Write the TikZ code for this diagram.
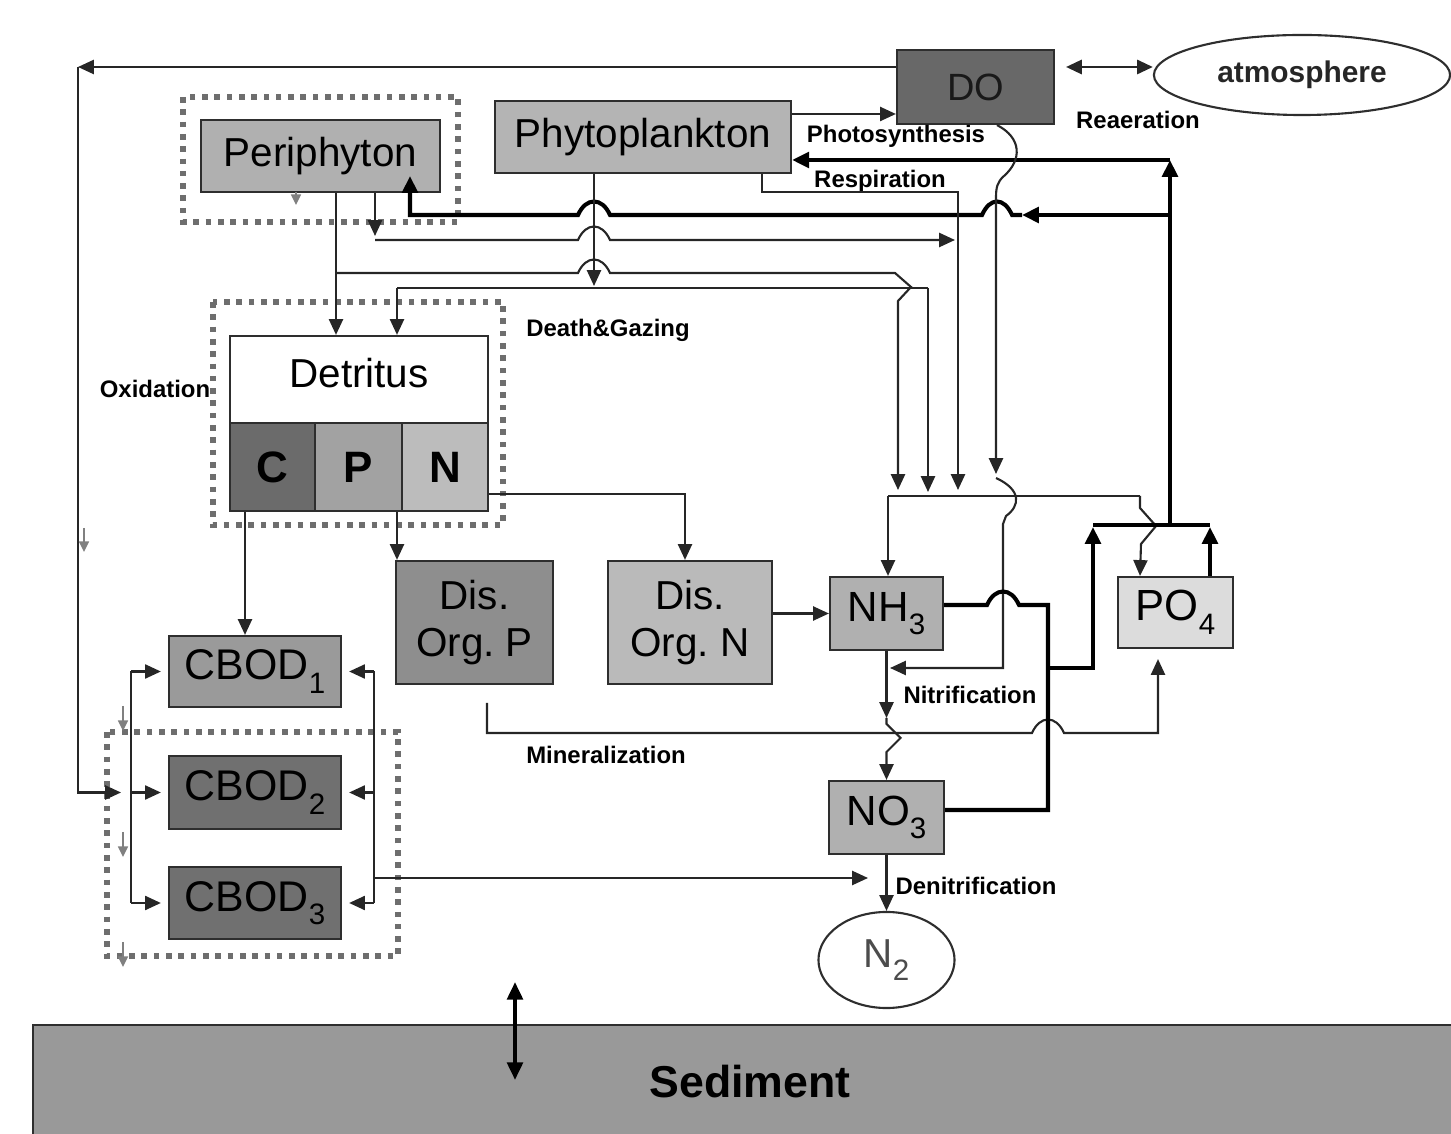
\documentclass[tikz,border=0pt]{standalone}
\usepackage{fontspec}
\setmainfont{Liberation Sans}
\usetikzlibrary{arrows.meta,positioning,shapes.geometric}

\definecolor{edge}{HTML}{2E2E2E}
\definecolor{dots}{HTML}{6E6E6E}
\definecolor{sed}{HTML}{999999}
\definecolor{peri}{HTML}{B0B0B0}
\definecolor{phy}{HTML}{B4B4B4}
\definecolor{dox}{HTML}{686868}
\definecolor{cellC}{HTML}{6B6B6B}
\definecolor{cellP}{HTML}{A2A2A2}
\definecolor{cellN}{HTML}{BCBCBC}
\definecolor{disp}{HTML}{8E8E8E}
\definecolor{disn}{HTML}{BABABA}
\definecolor{nut}{HTML}{B0B0B0}
\definecolor{pho}{HTML}{DCDCDC}
\definecolor{cbA}{HTML}{9A9A9A}
\definecolor{cbB}{HTML}{707070}

\newcommand{\lowsub}[1]{\raisebox{-0.6ex}{\fontsize{8.4}{9}\selectfont #1}}
\frenchspacing

\tikzset{
  pool/.style={draw=edge, line width=0.6pt, inner sep=0pt, align=center,
    font=\fontsize{11.5}{13.6}\selectfont},
  cell/.style={pool, minimum height=0.88cm, font=\bfseries\fontsize{12.5}{14}\selectfont},
  flux/.style={inner sep=0pt, font=\bfseries\fontsize{6.8}{8}\selectfont},
  link/.style={draw=black!85, line width=0.6pt},
  flow/.style={link, -{Triangle[length=4.5pt,width=4pt]}},
  heavy/.style={draw=black, line width=1.15pt},
  hflow/.style={heavy, -{Triangle[length=4.8pt,width=4.4pt]}},
  group/.style={draw=dots, line width=1.6pt, dash pattern=on 1.6pt off 1.9pt},
  tick/.style={draw=black!50, line width=0.5pt, -{Triangle[length=3pt,width=2.8pt]}},
}

\begin{document}
\begin{tikzpicture}[x=0.01cm,y=-0.01cm]
  \useasboundingbox (0,0) rectangle (1451,1134);

  % sediment layer
  \fill[sed] (33,1025) rectangle (1451,1134);
  \draw[edge, line width=0.7pt] (33,1134) -- (33,1025) -- (1451,1025);
  \node[flux, font=\bfseries\fontsize{12.7}{15}\selectfont] (sedim) at (750,1082) {Sediment};
  \coordinate (sx1) at (515,982);
  \coordinate (sx2) at (515,1080);
  \draw[heavy, {Triangle[length=5pt,width=4.4pt]}-{Triangle[length=5pt,width=4.4pt]}] (sx1) -- (sx2);

  % dotted groups
  \draw[group] (183,97) rectangle (458,222);
  \draw[group] (213,302) rectangle (503,525);
  \draw[group] (107,732) rectangle (398,956);

  % pools
  \node[pool, fill=peri, minimum width=2.39cm, minimum height=0.72cm] (periph) at (320.5,156) {Periphyton};
  \node[pool, fill=phy, minimum width=2.96cm, minimum height=0.72cm] (phyto) at (643,137) {Phytoplankton};
  \node[pool, fill=dox, minimum width=1.57cm, minimum height=0.74cm, text=black!90, font=\fontsize{10.8}{13}\selectfont] (DO) at (975.5,87) {DO};
  \node[pool, ellipse, minimum width=2.96cm, minimum height=0.80cm, text=black!85,
        font=\bfseries\fontsize{8.5}{10}\selectfont] (atm) at (1302,75) {atmosphere};
  \node[pool, fill=white, minimum width=2.58cm, minimum height=0.87cm, text depth=0.13cm] (det) at (359,379.5) {Detritus};
  \node[cell, fill=cellC, minimum width=0.85cm] (detC) at (272.5,467) {C};
  \node[cell, fill=cellP, minimum width=0.87cm] (detP) at (358.5,467) {P};
  \node[cell, fill=cellN, minimum width=0.86cm] (detN) at (445,467) {N};
  \node[pool, fill=disp, minimum width=1.57cm, minimum height=1.23cm] (disP) at (474.5,622.5) {Dis.\\Org. P};
  \node[pool, fill=disn, minimum width=1.64cm, minimum height=1.23cm] (disN) at (690,622.5) {Dis.\\Org. N};
  \node[pool, fill=nut, minimum width=1.13cm, minimum height=0.73cm, font=\fontsize{12}{14}\selectfont] (NH3) at (886.5,613.5) {NH\lowsub{3}};
  \node[pool, fill=pho, minimum width=1.15cm, minimum height=0.71cm, font=\fontsize{12.4}{14}\selectfont] (PO4) at (1175.5,612.5) {PO\lowsub{4}};
  \node[pool, fill=nut, minimum width=1.15cm, minimum height=0.73cm, font=\fontsize{12}{14}\selectfont] (NO3) at (886.5,817.5) {NO\lowsub{3}};
  \node[pool, ellipse, minimum width=1.36cm, minimum height=0.96cm, text=black!70] (N2) at (886.5,960) {N\lowsub{2}};
  \node[pool, fill=cbA, minimum width=1.72cm, minimum height=0.71cm, font=\fontsize{12.2}{14}\selectfont] (CBOD1) at (255,671.5) {CBOD\lowsub{1}};
  \node[pool, fill=cbB, minimum width=1.72cm, minimum height=0.73cm, font=\fontsize{12.2}{14}\selectfont] (CBOD2) at (255,792.5) {CBOD\lowsub{2}};
  \node[pool, fill=cbB, minimum width=1.72cm, minimum height=0.72cm, font=\fontsize{12.2}{14}\selectfont] (CBOD3) at (255,903) {CBOD\lowsub{3}};

  % process labels
  \node[flux] (lphot) at (896,136) {Photosynthesis};
  \node[flux] (lrea) at (1138,120) {Reaeration};
  \node[flux] (lresp) at (880,181) {Respiration};
  \node[flux] (ldeath) at (608,330) {Death\&Gazing};
  \node[flux] (loxi) at (155,389) {Oxidation};
  \node[flux] (lnit) at (970,695) {Nitrification};
  \node[flux] (lmin) at (606,755) {Mineralization};
  \node[flux] (lden) at (976,886) {Denitrification};

  % CBOD buses
  \coordinate (lb) at (131,668);
  \coordinate (rb) at (374,668);
  \draw[link] (lb |- CBOD1) -- (lb |- CBOD3);
  \draw[link] (rb |- CBOD1) -- (rb |- CBOD3);
  \foreach \k in {1,2,3} {
    \draw[flow, shorten >=2pt] (lb |- CBOD\k) -- (CBOD\k.west);
    \draw[flow, shorten >=2pt] (rb |- CBOD\k) -- (CBOD\k.east);
  }
  \coordinate (dnx) at (868,878);
  \draw[flow] (rb |- dnx) -- (dnx);

  % oxygen for oxidation
  \coordinate (ox) at (78,67);
  \draw[flow] (DO.west |- ox) -- (ox);
  \draw[flow] (ox) -- (ox |- CBOD2) -- ([xshift=-0.1cm]lb |- CBOD2);

  % photosynthesis and reaeration
  \draw[flow] (phyto.east |- 0,114) -- (DO.west |- 0,114);
  \coordinate (rea) at (1066,67);
  \draw[link, line width=0.8pt, {Triangle[length=4.5pt,width=4pt]}-{Triangle[length=4.5pt,width=4pt]}] (rea) -- (rea -| atm.west);

  % nutrient uptake by algae
  \coordinate (pj) at (1170,525);
  \coordinate (pin) at (410,176);
  \draw[hflow] (pj) -- (1170,160);
  \draw[hflow] (1170,160) -- (phyto.east |- 0,160);
  \draw[hflow] (1170,215) -- (1022,215);
  \draw[hflow] (1022,215) -- (1012,215) .. controls (1004,197) and (990,197) .. (982,215)
    -- (610,215) .. controls (602,197) and (586,197) .. (578,215) -- (pin |- 0,215) -- (pin);

  % periphyton losses
  \draw[flow] (periph.south -| 336,0) -- (det.north -| 336,0);
  \draw[flow] (periph.south -| 375,0) -- (375,236);
  \draw[flow] (375,240) -- (578,240) .. controls (586,222) and (602,222) .. (610,240) -- (955,240);
  \draw[flow] (336,273) -- (578,273) .. controls (586,255) and (602,255) .. (610,273)
    -- (895,273) -- (911,287) -- (898,301) -- (898,490);

  % phytoplankton losses
  \draw[flow] (phyto.south -| 594,0) -- (594,286);
  \draw[link] (397,288) -- (928,288);
  \draw[flow] (397,288) -- (det.north -| 397,0);
  \draw[flow] (928,288) -- (928,492);
  \draw[flow] (phyto.south -| 762,0) -- (762,192) -- (958,192) -- (958,490);

  % oxygen demand
  \draw[flow] (DO.south -| 997,0) .. controls (1022,138) and (1022,160) .. (1004,176)
    .. controls (997,182) and (996,188) .. (996,198) -- (996,474);
  \coordinate (nit) at (NH3.south |- 0,668);
  \draw[flow, shorten >=1pt] (996,478) .. controls (1022,490) and (1020,506) .. (1006,516)
    -- (1003,524) -- (1003,668) -- (nit);

  % feed bus to NH3 and PO4
  \coordinate (fb) at (888,496);
  \draw[link] (fb) -- (1140,496);
  \draw[flow] (fb) -- (NH3.north -| fb);
  \draw[flow] (1140,496) -- (1140,508) -- (1156,526) -- (1141,544) -- (PO4.north -| 1140,0);

  % detritus breakdown
  \draw[flow] (detC.south -| 245,0) -- (CBOD1.north -| 245,0);
  \draw[flow] (detP.south -| 397,0) -- (disP.north -| 397,0);
  \draw[flow] (detN.east |- 0,494) -- (685,494) -- (disN.north -| 685,0);
  \draw[flow] (disN.east |- NH3) -- (NH3.west);

  % mineralization
  \coordinate (mn) at (487,703);
  \draw[flow] (mn) -- (487,733) -- (1032,733) .. controls (1040,715) and (1056,715) .. (1064,733)
    -- (1158,733) -- ([yshift=-0.1cm]PO4.south -| 1158,0);

  % nitrification and denitrification
  \draw[flow] (NH3.south) -- (NH3.south |- 0,718);
  \draw[flow] (NH3.south |- 0,718) -- ++(0,6) -- ++(14,14) -- ++(-14,14) -- (NO3.north);
  \draw[flow] (NO3.south) -- (N2.north);

  % NH3 and NO3 uptake
  \draw[heavy] (NH3.east |- 0,605) -- (987,605) .. controls (995,587) and (1011,587) .. (1019,605)
    -- (1048,605) -- (1048,810) -- (NO3.east |- 0,810);
  \draw[hflow] (1048,668) -- (1093,668) -- (1093,527);
  \draw[heavy] (1093,525) -- (1210,525);
  \draw[hflow] (PO4.north -| 1210,0) -- (1210,527);

  % small settling marks
  \draw[tick] (84,528) -- (84,552);
  \draw[tick] (123,706) -- (123,731);
  \draw[tick] (123,832) -- (123,857);
  \draw[tick] (123,942) -- (123,967);
  \draw[tick] (296,192) -- (296,205);
\end{tikzpicture}
\end{document}
